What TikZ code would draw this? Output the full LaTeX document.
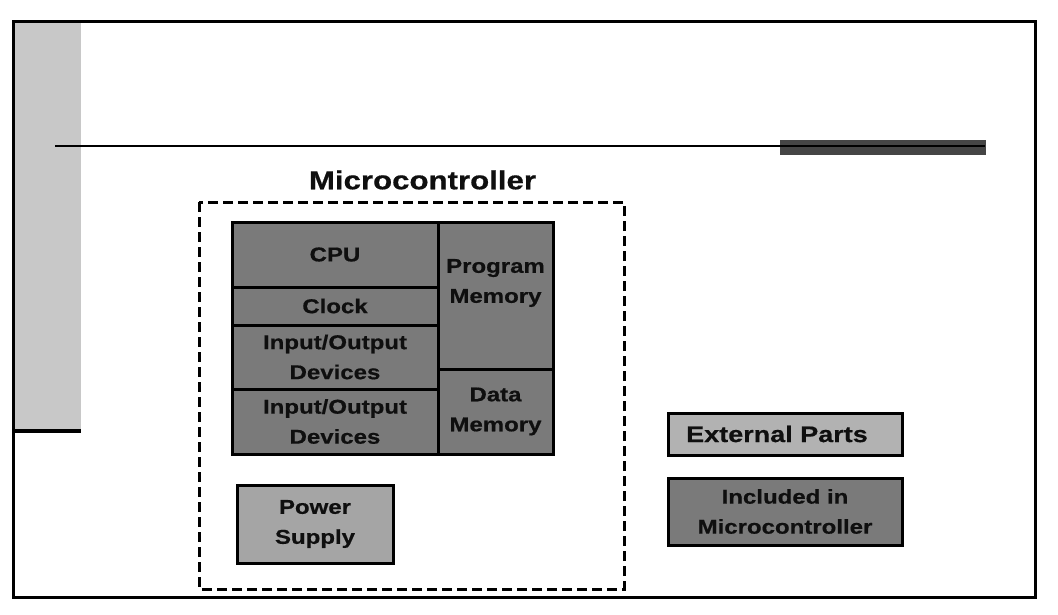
\documentclass[tikz,border=0pt]{standalone}
\usepackage{fontspec}
\newfontfamily\bsf[FakeStretch=1.2,FakeBold=0.6]{Liberation Sans Bold}
\definecolor{dk}{RGB}{122,122,122}
\definecolor{lt}{RGB}{165,165,165}
\definecolor{ltx}{RGB}{178,178,178}
\definecolor{strip}{RGB}{200,200,200}
\definecolor{bar}{RGB}{69,69,69}
\definecolor{txt}{RGB}{15,15,15}
\tikzset{
  blk/.style={draw=black, line width=3pt, fill=dk, text=txt, font=\bsf\fontsize{20}{30}\selectfont, align=center, inner sep=0pt, anchor=center},
  lbl/.style={text=txt, font=\bsf\fontsize{20}{30}\selectfont, align=center, inner sep=0pt},
}
\begin{document}
\begin{tikzpicture}[x=1pt,y=-1pt]
\useasboundingbox (0,0) rectangle (1058,615);
% slide decoration
\fill[strip] (14,22) rectangle (81,431);
\draw[line width=4pt] (13,431) -- (81,431);
\fill[bar] (780,140) rectangle (986,155);
\draw[line width=2pt] (55,146.5) -- (985,146.5);
\draw[line width=3pt] (13.5,22) rectangle (1035,597);
% title
\node[text=txt, font=\bsf\fontsize{26}{30}\selectfont, inner sep=0pt] (title) at (422.5,180) {Microcontroller};
% dashed boundary
\draw[line width=3pt, dash pattern=on 10pt off 5pt] (199,202) rectangle (624,589);
% blocks
\node[blk, minimum width=206pt, minimum height=65pt] (cpu) at (335,254.5) {CPU};
\node[blk, minimum width=206pt, minimum height=38pt] (clock) at (335,306) {Clock};
\node[blk, minimum width=206pt, minimum height=64pt] (io1) at (335,357) {Input/Output\\Devices};
\node[blk, minimum width=206pt, minimum height=65pt] (io2) at (335,421.5) {Input/Output\\Devices};
\node[blk, minimum width=115pt, minimum height=147pt] (pm) at (495.5,295.5) {};
\node[lbl] (pmt) at (495.5,283) {Program\\Memory};
\node[blk, minimum width=115pt, minimum height=85pt] (dm) at (495.5,411.5) {Data\\Memory};
\node[blk, fill=lt, minimum width=156pt, minimum height=78pt] (ps) at (315,524) {Power\\Supply};
% legend
\node[blk, fill=ltx, font=\bsf\fontsize{22.5}{30}\selectfont, minimum width=234pt, minimum height=42pt] (ext) at (785,434) {External Parts\hspace{16pt}};
\node[blk, minimum width=234pt, minimum height=67pt] (inc) at (785,511.5) {Included in\\Microcontroller};
\end{tikzpicture}
\end{document}
